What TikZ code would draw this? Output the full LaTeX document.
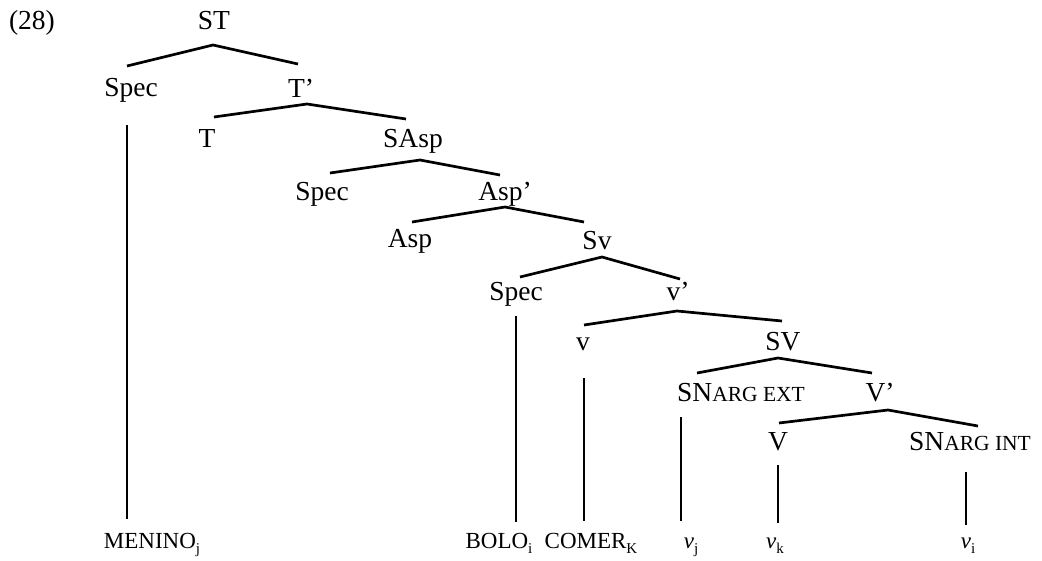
\documentclass[tikz,border=0pt]{standalone}
\usepackage{fontspec}
\setmainfont{Liberation Serif}
\usetikzlibrary{calc}
\newcommand{\lsub}[1]{\raisebox{-5pt}{\fontsize{15}{15}\selectfont #1}}
\newcommand{\smc}[1]{{\fontsize{21.5}{24}\selectfont #1}}
\tikzset{
  lab/.style={anchor=base, inner sep=0pt, font=\fontsize{27.5}{32}\selectfont},
  leaf/.style={anchor=base, inner sep=0pt, font=\fontsize{23}{28}\selectfont},
  br/.style={line width=2.7pt},
}
\begin{document}
\begin{tikzpicture}[x=1pt,y=-1pt]
\useasboundingbox (0,0) rectangle (1042,560);
% labels
\node[lab] (n28) at (32,29) {(28)};
\node[lab] (ST) at (214,29) {ST};
\node[lab] (Spec1) at (131,96) {Spec};
\node[lab] (T1) at (301,97) {T’};
\node[lab] (T) at (207,147) {T};
\node[lab] (SAsp) at (413,147) {SAsp};
\node[lab] (Spec3) at (322,200) {Spec};
\node[lab] (Asp1) at (505,200) {Asp’};
\node[lab] (Asp) at (410,247) {Asp};
\node[lab] (Sv) at (597,249) {Sv};
\node[lab] (Spec5) at (516,300) {Spec};
\node[lab] (v1) at (678,300) {v’};
\node[lab] (v) at (583,350) {v};
\node[lab] (SV) at (783,350) {SV};
\node[lab] (SNe) at (741,401) {SN\smc{ARG EXT}};
\node[lab] (V1) at (880,401) {V’};
\node[lab] (V) at (778,450) {V};
\node[lab] (SNi) at (970,450) {SN\smc{ARG INT}};
% leaves
\node[leaf] (MEN) at (152,548) {MENINO\lsub{j}};
\node[leaf] (BOLO) at (499,548) {BOLO\lsub{i}};
\node[leaf] (COMER) at (591,548) {COMER\lsub{K}};
\node[leaf] (vj) at (691,548) {\textit{v}\lsub{j}};
\node[leaf] (vk) at (775,548) {\textit{v}\lsub{k}};
\node[leaf] (vi) at (968,548) {\textit{v}\lsub{i}};
% branches
\draw[br] ($(Spec1.base)+(-4,-30)$) -- ($(ST.base)+(-1,16)$) -- ($(T1.base)+(-3,-33)$);
\draw[br] ($(T.base)+(7,-30)$) -- ($(T1.base)+(6,7)$) -- ($(SAsp.base)+(-7,-28)$);
\draw[br] ($(Spec3.base)+(8,-27)$) -- ($(SAsp.base)+(7,13)$) -- ($(Asp1.base)+(-5,-25)$);
\draw[br] ($(Asp.base)+(2,-25)$) -- ($(Asp1.base)+(0,7)$) -- ($(Sv.base)+(-13,-27)$);
\draw[br] ($(Spec5.base)+(4,-23)$) -- ($(Sv.base)+(5,8)$) -- ($(v1.base)+(2,-21)$);
\draw[br] ($(v.base)+(1,-25)$) -- ($(v1.base)+(-1,11)$) -- ($(SV.base)+(-1,-29)$);
\draw[br] ($(SNe.base)+(-44,-28)$) -- ($(SV.base)+(-5,8)$) -- ($(V1.base)+(-8,-28)$);
\draw[br] ($(V.base)+(1,-27)$) -- ($(V1.base)+(8,9)$) -- ($(SNi.base)+(8,-24)$);
% verticals
\draw[br] ($(Spec1.base)+(-4,29)$) -- ($(MEN.base)+(-25,-29)$);
\draw[br] ($(Spec5.base)+(0,16)$) -- ($(BOLO.base)+(17,-26)$);
\draw[br] ($(v.base)+(1,28)$) -- ($(COMER.base)+(-7,-27)$);
\draw[br] ($(SNe.base)+(-60,16)$) -- ($(vj.base)+(-10,-27)$);
\draw[br] ($(V.base)+(0,15)$) -- ($(vk.base)+(3,-25)$);
\draw[br] ($(SNi.base)+(-4,22)$) -- ($(vi.base)+(-2,-23)$);
\end{tikzpicture}
\end{document}
